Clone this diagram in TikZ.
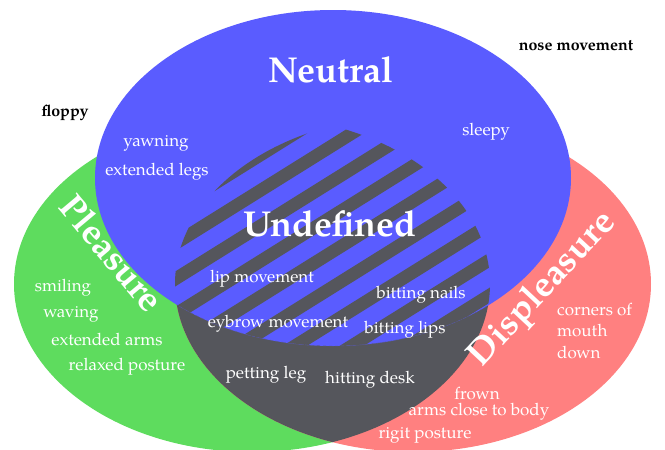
\documentclass[tikz,border=0pt]{standalone}
\usepackage{fontspec}
\setmainfont{TeX Gyre Pagella}
\definecolor{cblue}{RGB}{90,92,255}
\definecolor{cgreen}{RGB}{94,220,94}
\definecolor{cred}{RGB}{255,128,128}
\definecolor{cgray}{RGB}{85,86,92}
\begin{document}
\begin{tikzpicture}[x=1pt,y=-1pt,
  lbl/.style={text=white,font=\fontsize{17}{19}\selectfont,inner sep=0pt},
  big/.style={text=white,font=\fontsize{36}{40}\selectfont\bfseries,inner sep=0pt},
  outl/.style={text=black,font=\fontsize{16}{18}\selectfont\bfseries,inner sep=0pt}]
\useasboundingbox (0,0) rectangle (665,450);
% sets
\fill[cgreen] (252,284) ellipse [x radius=238pt,y radius=168pt];
\fill[cred] (413,284) ellipse [x radius=238pt,y radius=168pt];
\begin{scope}
  \clip (252,284) ellipse [x radius=238pt,y radius=168pt];
  \fill[cgray] (413,284) ellipse [x radius=238pt,y radius=168pt];
\end{scope}
\fill[cblue] (333,178) ellipse [x radius=238pt,y radius=168pt];
% hatched undefined region
\begin{scope}
  \clip (252,284) ellipse [x radius=238pt,y radius=168pt];
  \clip (413,284) ellipse [x radius=238pt,y radius=168pt];
  \clip (333,178) ellipse [x radius=238pt,y radius=168pt];
  \foreach \k in {-1,...,9}{
    \pgfmathsetmacro\ca{310+35.4*\k}
    \pgfmathsetmacro\cb{\ca+15}
    \fill[cgray] (100,\ca-62.4) -- (560,\ca-349.4) -- (560,\cb-349.4) -- (100,\cb-62.4) -- cycle;
  }
\end{scope}
\begin{scope}
  \clip (252,284) ellipse [x radius=238pt,y radius=168pt];
  \clip (413,284) ellipse [x radius=238pt,y radius=168pt];
  \draw[cgray!60!cblue,dashed,line width=0.4pt] (333,178) ellipse [x radius=238pt,y radius=168pt];
\end{scope}
% titles
\node[big] (neutral) at (331,70) {Neutral};
\node[big] (undef) at (330,224) {Undefined};
\node[big,rotate=-50] (pleas) at (112,253) {Pleasure};
\node[big,rotate=47] (displ) at (543,290) {Displeasure};
% outside labels
\node[outl] (floppy) at (65,113) {floppy};
\node[outl] (nose) at (576,46) {nose movement};
% neutral
\node[lbl] (yawn) at (156,143) {yawning};
\node[lbl] (legs) at (157,172) {extended legs};
\node[lbl] (sleepy) at (486,132) {sleepy};
% pleasure
\node[lbl] (smile) at (63,288) {smiling};
\node[lbl] (wave) at (71,314) {waving};
\node[lbl] (arms) at (107,339) {extended arms};
\node[lbl] (relax) at (127,367) {relaxed posture};
% undefined
\node[lbl] (lip) at (262,279) {lip movement};
\node[lbl] (brow) at (278,324) {eybrow movement};
\node[lbl] (nails) at (421,295) {bitting nails};
\node[lbl] (lips) at (405,330) {bitting lips};
\node[lbl] (pet) at (266,375) {petting leg};
\node[lbl] (desk) at (370,380) {hitting desk};
% displeasure
\node[lbl,anchor=west] (corn) at (557,309) {corners of};
\node[lbl,anchor=west] (mouth) at (557,330) {mouth};
\node[lbl,anchor=west] (down) at (557,352) {down};
\node[lbl] (frown) at (477,393) {frown};
\node[lbl] (close) at (479,412) {arms close to body};
\node[lbl] (rigit) at (425,435) {rigit posture};
\end{tikzpicture}
\end{document}
